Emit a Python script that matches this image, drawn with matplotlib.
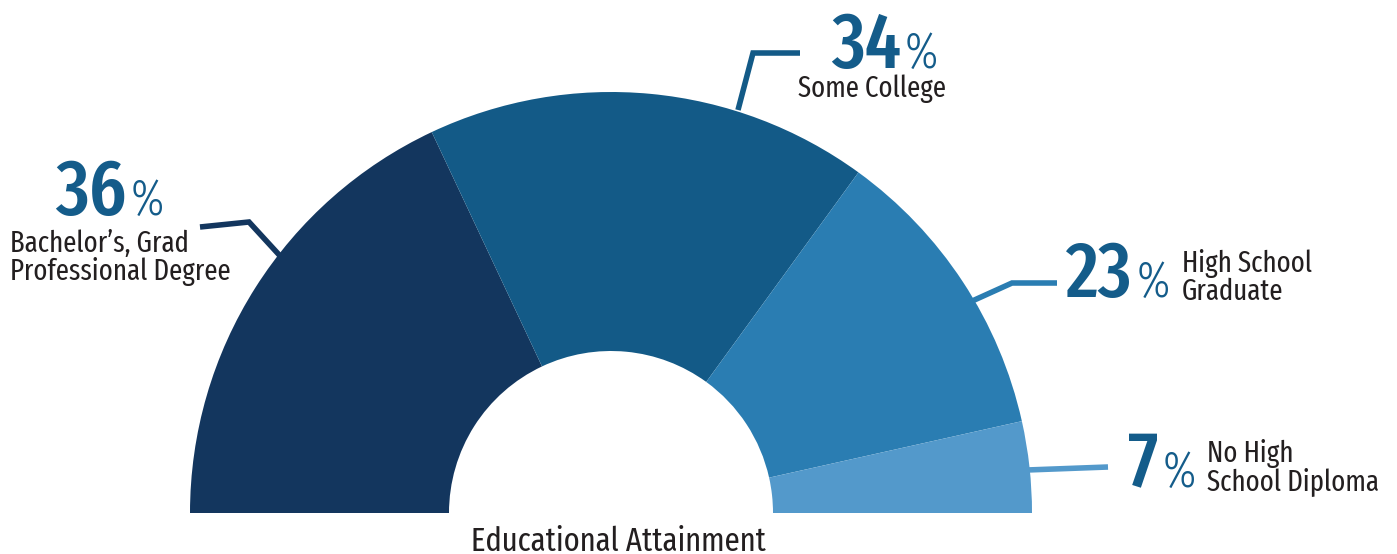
import matplotlib
matplotlib.use('Agg')
import matplotlib.pyplot as plt

# ═══ Data ═══
categories = ["Bachelor\u2019s, Grad\nProfessional Degree", "Some College",
              "High School\nGraduate", "No High\nSchool Diploma"]
values = [36, 34, 23, 7]
title = "Educational Attainment"

COLORS = ['#13365E', '#135A87', '#2A7DB2', '#5399CB']
NUM_COLOR = '#145C8A'
TXT_COLOR = '#231F20'
FONT = ['Fira Sans Extra Condensed', 'DejaVu Sans']

W, H = 1397, 554


def py(y):
    # pixel row (from top) -> data y (from bottom)
    return H - y


fig = plt.figure(figsize=(W / 100, H / 100), dpi=100)
ax = fig.add_axes([0, 0, 1, 1])

# half donut: hidden slice of the same total fills the lower half
wedges, _ = ax.pie(values + [sum(values)], startangle=180, counterclock=False,
                   radius=421, center=(611, py(513)),
                   colors=COLORS + ['none'],
                   wedgeprops=dict(width=259, linewidth=0))
ax.set_xlim(0, W)
ax.set_ylim(0, H)
ax.set_aspect('equal')
ax.axis('off')

# leader lines (pixel positions)
leaders = [
    [(200, 227), (249, 222), (282, 258)],
    [(800, 53), (753, 53), (738, 110)],
    [(1057, 283), (1012, 283), (970, 302)],
    [(1108, 467), (1027, 470)],
]
for pts, c in zip(leaders, COLORS):
    ax.plot([p[0] for p in pts], [py(p[1]) for p in pts], color=c,
            lw=4, solid_capstyle='butt', solid_joinstyle='miter')

# label placement in pixels: number left/baseline, text left/first baseline
layout = [
    dict(nx=55, ny=215, tx=10, ty=252),
    dict(nx=831, ny=68, tx=798, ty=97),
    dict(nx=1066, ny=297, tx=1182, ty=272),
    dict(nx=1128, ny=487, tx=1207, ty=462),
]
for v, cat, L in zip(values, categories, layout):
    t = ax.text(L['nx'], py(L['ny']), str(v), fontsize=57, color=NUM_COLOR,
                family=FONT, weight=500, ha='left', va='baseline')
    fig.canvas.draw()
    bb = t.get_window_extent()
    ax.text(bb.x1 + 4, py(L['ny']), '%', fontsize=36, color=NUM_COLOR,
            family=FONT, weight=300, ha='left', va='baseline')
    lines = cat.split('\n')
    for i, line in enumerate(lines):
        ax.text(L['tx'], py(L['ty'] + 28 * i), line, fontsize=21,
                color=TXT_COLOR, family=FONT, ha='left', va='baseline')

ax.text(618, py(551), title, fontsize=24, color=TXT_COLOR, family=FONT,
        ha='center', va='baseline')

plt.savefig('out.png', dpi=100)
plt.close()
